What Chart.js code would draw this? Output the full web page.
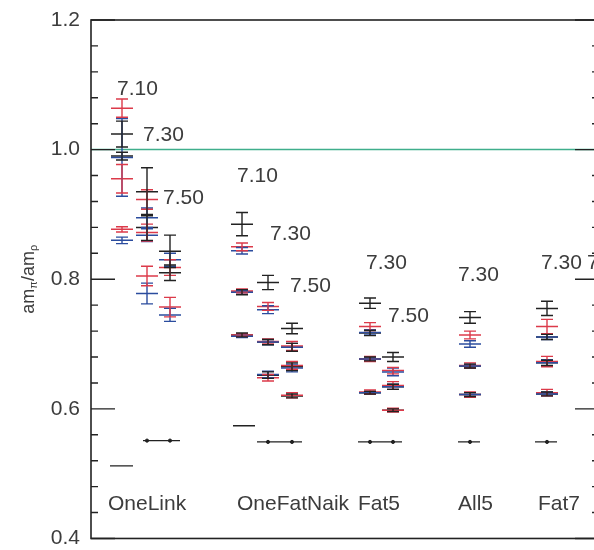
<!DOCTYPE html>
<html>
<head>
<meta charset="utf-8">
<script src="https://cdn.jsdelivr.net/npm/chart.js@4.4.1/dist/chart.umd.min.js"></script>
<style>
  html, body { margin: 0; padding: 0; background: #fff; overflow: hidden; }
  #wrap { width: 594px; height: 550px; overflow: hidden; }
</style>
</head>
<body>
<div id="wrap"><canvas id="ratioChart" width="604" height="550"></canvas></div>
<script>
// column positions (x units) for each beta inside the groups
// OneLink 7.10/7.30/7.50, OneFatNaik 7.10/7.30/7.50, Fat5 7.30/7.50, All5 7.30, Fat7 7.30
// points are [x, am_pi/am_rho, error]
const blackPoints = [
    [31, 1.024, 0.020], [31, 0.990, 0.006],
    [56, 0.935, 0.037], [56, 0.880, 0.020],
    [79, 0.843, 0.025], [79, 0.810, 0.012],
    [151, 0.885, 0.018], [151, 0.780, 0.004], [151, 0.714, 0.003],
    [177, 0.795, 0.011], [177, 0.703, 0.004], [177, 0.652, 0.005],
    [201, 0.724, 0.008], [201, 0.695, 0.006], [201, 0.665, 0.006], [201, 0.620, 0.003],
    [279, 0.763, 0.008], [279, 0.717, 0.004], [279, 0.677, 0.003], [279, 0.625, 0.002],
    [302, 0.680, 0.007], [302, 0.634, 0.004], [302, 0.598, 0.002],
    [379, 0.741, 0.009], [379, 0.666, 0.003], [379, 0.622, 0.003],
    [456, 0.755, 0.011], [456, 0.711, 0.004], [456, 0.671, 0.004], [456, 0.623, 0.003]
];
const redPoints = [
    [31, 1.064, 0.014], [31, 0.955, 0.022], [31, 0.877, 0.004],
    [56, 0.923, 0.015], [56, 0.872, 0.013], [56, 0.805, 0.015],
    [79, 0.818, 0.012], [79, 0.757, 0.015],
    [151, 0.850, 0.006], [151, 0.782, 0.003], [151, 0.714, 0.002],
    [177, 0.758, 0.006], [177, 0.704, 0.004], [177, 0.648, 0.005],
    [201, 0.697, 0.007], [201, 0.667, 0.006], [201, 0.621, 0.004],
    [279, 0.727, 0.006], [279, 0.677, 0.004], [279, 0.626, 0.003],
    [302, 0.659, 0.005], [302, 0.636, 0.006], [302, 0.598, 0.003],
    [379, 0.714, 0.006], [379, 0.667, 0.004], [379, 0.622, 0.004],
    [456, 0.727, 0.011], [456, 0.673, 0.008], [456, 0.625, 0.005]
];
const bluePoints = [
    [31, 0.988, 0.060], [31, 0.860, 0.005],
    [56, 0.895, 0.015], [56, 0.868, 0.010], [56, 0.778, 0.016],
    [79, 0.830, 0.010], [79, 0.745, 0.010],
    [151, 0.844, 0.005], [151, 0.780, 0.003], [151, 0.712, 0.002],
    [177, 0.753, 0.006], [177, 0.703, 0.004], [177, 0.653, 0.005],
    [201, 0.695, 0.006], [201, 0.663, 0.006],
    [279, 0.718, 0.004], [279, 0.677, 0.003], [279, 0.625, 0.002],
    [302, 0.657, 0.006], [302, 0.634, 0.004],
    [379, 0.700, 0.005], [379, 0.666, 0.003], [379, 0.622, 0.003],
    [456, 0.711, 0.004], [456, 0.671, 0.005], [456, 0.623, 0.003]
];
// lightest mass: horizontal segments [xStart, xEnd, value] and dots [x, value]
const lightSegments = [
    [19, 42, 0.512], [52, 89, 0.551],
    [142, 164, 0.574], [166, 211, 0.549],
    [267, 311, 0.549], [367, 389, 0.549], [444, 466, 0.549]
];
const lightDots = [
    [56, 0.551], [79, 0.551], [177, 0.549], [201, 0.549],
    [279, 0.549], [302, 0.549], [379, 0.549], [456, 0.549]
];
const referenceLine = 1.0;

// text labels: [text, x, value]
const betaLabels = [
    ['7.10', 26, 1.093], ['7.30', 52, 1.023], ['7.50', 72, 0.925],
    ['7.10', 146, 0.959], ['7.30', 179, 0.870], ['7.50', 199, 0.790],
    ['7.30', 275, 0.825], ['7.50', 297, 0.743],
    ['7.30', 367, 0.806],
    ['7.30', 450, 0.825], ['7.50', 496, 0.825]
];
const groupLabels = [
    ['OneLink', 17, 0.453], ['OneFatNaik', 146, 0.453], ['Fat5', 267, 0.453],
    ['All5', 367, 0.453], ['Fat7', 447, 0.453]
];
const yMin = 0.4, yMax = 1.2, yStep = 0.04;

const FONT = '"Liberation Sans", Arial, sans-serif';
const TEXT_COLOR = '#3c3c3c';

function toPoints(arr) {
    return arr.map(p => ({ x: p[0], y: p[1], e: p[2] }));
}

function segmentData() {
    const out = [];
    lightSegments.forEach(s => {
        out.push({ x: s[0], y: s[2] }, { x: s[1], y: s[2] }, { x: s[1], y: null });
    });
    return out;
}

const errorBars = {
    id: 'errorBars',
    afterDatasetsDraw(chart) {
        const ctx = chart.ctx;
        const yScale = chart.scales.y;
        chart.data.datasets.forEach((ds, i) => {
            if (!ds.errorBars) return;
            const meta = chart.getDatasetMeta(i);
            ctx.save();
            ctx.strokeStyle = ds.borderColor;
            ctx.lineWidth = 1.4;
            meta.data.forEach((el, j) => {
                const p = ds.data[j];
                const top = yScale.getPixelForValue(p.y + p.e);
                const bot = yScale.getPixelForValue(p.y - p.e);
                ctx.beginPath();
                ctx.moveTo(el.x, top); ctx.lineTo(el.x, bot);
                ctx.moveTo(el.x - 6, top); ctx.lineTo(el.x + 6, top);
                ctx.moveTo(el.x - 6, bot); ctx.lineTo(el.x + 6, bot);
                ctx.stroke();
            });
            ctx.restore();
        });
    }
};

const frame = {
    id: 'frame',
    afterDraw(chart) {
        const ctx = chart.ctx;
        const a = chart.chartArea;
        const x = chart.scales.x, y = chart.scales.y;
        ctx.save();
        ctx.strokeStyle = '#222';
        ctx.lineWidth = 1.6;
        ctx.strokeRect(a.left, a.top, a.right - a.left, a.bottom - a.top);
        // inward ticks on left and right
        ctx.lineWidth = 1.4;
        y.ticks.forEach(t => {
            const py = y.getPixelForValue(t.value);
            const major = Math.round(t.value * 100) % 20 === 0;
            const len = major ? 24 : 7;
            ctx.beginPath();
            ctx.moveTo(a.left, py); ctx.lineTo(a.left + len, py);
            ctx.moveTo(a.right, py); ctx.lineTo(a.right - len, py);
            ctx.stroke();
        });
        // labels
        ctx.fillStyle = TEXT_COLOR;
        ctx.font = '21px ' + FONT;
        ctx.textBaseline = 'middle';
        ctx.textAlign = 'left';
        betaLabels.concat(groupLabels).forEach(l => {
            ctx.fillText(l[0], x.getPixelForValue(l[1]), y.getPixelForValue(l[2]));
        });
        // axis title am_pi / am_rho, rotated
        ctx.translate(29, (a.top + a.bottom) / 2);
        ctx.rotate(-Math.PI / 2);
        const parts = [['am', 18, 0], ['π', 11, 5], ['/am', 18, 0], ['ρ', 11, 5]];
        let total = 0;
        parts.forEach(p => { ctx.font = p[1] + 'px ' + FONT; total += ctx.measureText(p[0]).width; });
        let cx = -total / 2;
        parts.forEach(p => {
            ctx.font = p[1] + 'px ' + FONT;
            ctx.fillText(p[0], cx, p[2]);
            cx += ctx.measureText(p[0]).width;
        });
        ctx.restore();
    }
};

function initializeChart() {
    const ctx = document.getElementById('ratioChart').getContext('2d');
    new Chart(ctx, {
        type: 'scatter',
        data: {
            datasets: [
                {
                    type: 'line',
                    data: [{ x: 0, y: referenceLine }, { x: 508, y: referenceLine }],
                    borderColor: '#3fae8c',
                    borderWidth: 1.5,
                    pointRadius: 0
                },
                {
                    type: 'line',
                    data: segmentData(),
                    borderColor: '#222',
                    borderWidth: 1.4,
                    pointRadius: 0,
                    spanGaps: false
                },
                {
                    data: lightDots.map(p => ({ x: p[0], y: p[1] })),
                    pointStyle: 'circle',
                    pointRadius: 1.6,
                    backgroundColor: '#222',
                    borderColor: '#222'
                },
                {
                    data: toPoints(bluePoints),
                    errorBars: true,
                    borderColor: '#2b4c9e',
                    pointStyle: 'line',
                    pointRadius: 11,
                    pointBorderWidth: 1.5
                },
                {
                    data: toPoints(redPoints),
                    errorBars: true,
                    borderColor: '#dc3a4a',
                    pointStyle: 'line',
                    pointRadius: 11,
                    pointBorderWidth: 1.5
                },
                {
                    data: toPoints(blackPoints),
                    errorBars: true,
                    borderColor: '#222',
                    pointStyle: 'line',
                    pointRadius: 11,
                    pointBorderWidth: 1.5
                }
            ]
        },
        options: {
            responsive: false,
            animation: false,
            layout: { autoPadding: false, padding: { top: 20, bottom: 10, left: 0, right: 5 } },
            plugins: { legend: { display: false }, tooltip: { enabled: false } },
            scales: {
                x: { type: 'linear', min: 0, max: 508, display: false },
                y: {
                    min: yMin,
                    max: yMax,
                    afterFit: scale => { scale.width = 91; },
                    grid: { display: false, drawTicks: false },
                    border: { display: false },
                    ticks: {
                        stepSize: yStep,
                        autoSkip: false,
                        padding: 11,
                        color: TEXT_COLOR,
                        // tiny line height keeps the label padding from shrinking the plot
                        font: { family: FONT, size: 21, lineHeight: 0.05 },
                        callback: v => (Math.round(v * 100) % 20 === 0 ? v.toFixed(1) : '')
                    }
                }
            }
        },
        plugins: [errorBars, frame]
    });
}

window.onload = initializeChart;
</script>
</body>
</html>
